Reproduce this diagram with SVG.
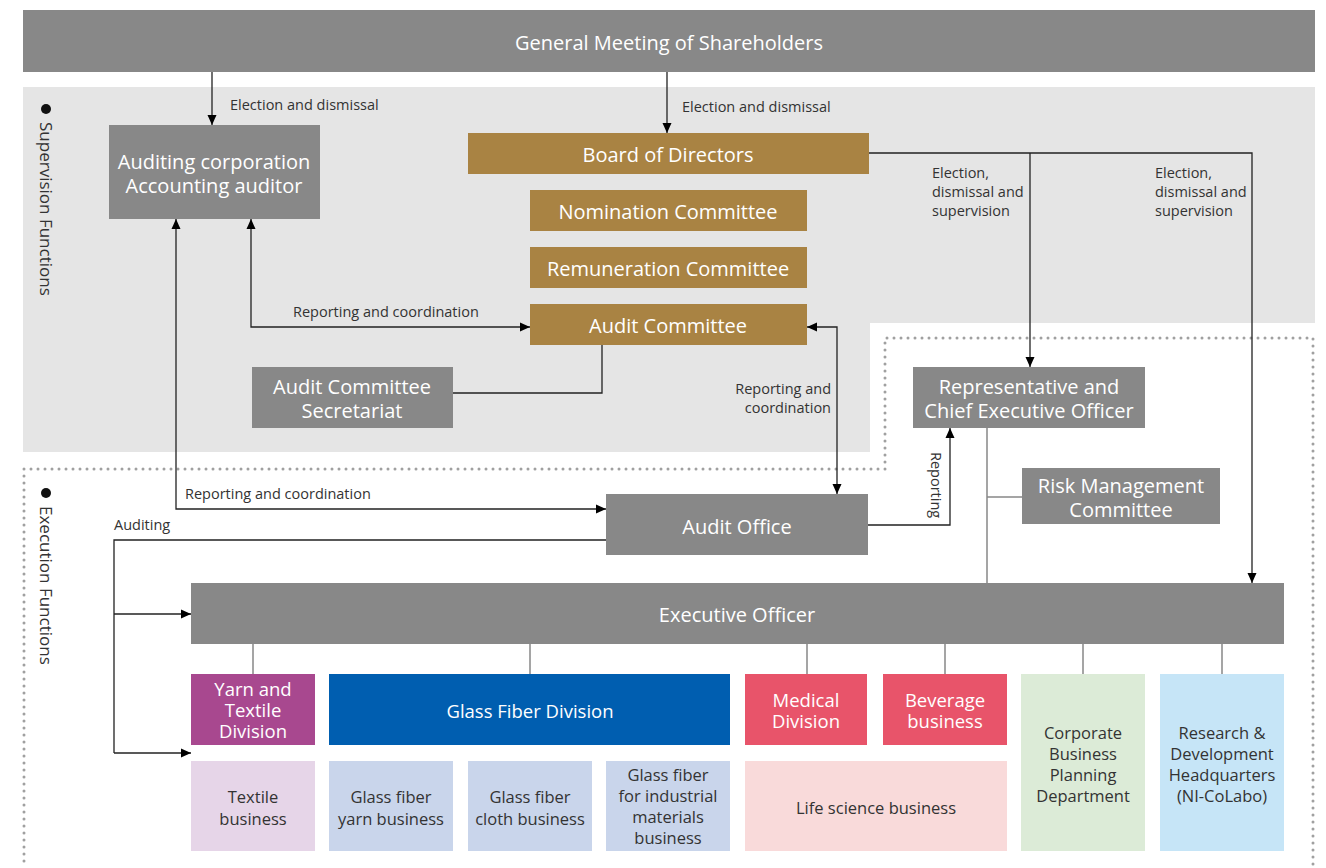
<svg xmlns="http://www.w3.org/2000/svg" width="1326" height="868" viewBox="0 0 1326 868">
  <style>
    .gray { fill: #888888; }
    .gold { fill: #a98343; }
    .nt { font-family: "Open Sans", "Noto Sans", sans-serif; font-size: 20px; fill: #ffffff; text-anchor: middle; }
    .ns { font-family: "Open Sans", "Noto Sans", sans-serif; font-size: 18.5px; fill: #ffffff; text-anchor: middle; }
    .dt { font-family: "Open Sans", "Noto Sans", sans-serif; font-size: 16.5px; fill: #333333; text-anchor: middle; }
    .lbl { font-family: "Open Sans", "Noto Sans", sans-serif; font-size: 14.5px; fill: #333333; }
    .side { font-family: "Open Sans", "Noto Sans", sans-serif; font-size: 17px; fill: #333333; }
    .ln { fill: none; stroke: #222222; stroke-width: 1.3; }
    .tick { fill: none; stroke: #888888; stroke-width: 1.5; }
    .dots { fill: none; stroke: #a0a0a0; stroke-width: 3; stroke-linecap: round; stroke-dasharray: 0 7; }
  </style>
  <defs>
    <marker id="arr" viewBox="0 0 10 10" refX="10" refY="5" markerWidth="10" markerHeight="10" markerUnits="userSpaceOnUse" orient="auto-start-reverse">
      <path d="M0,0.5 L10,5 L0,9.5 Z" fill="#000000"/>
    </marker>
  </defs>

  <!-- background zones -->
  <g id="zones">
    <path d="M23,87 H1315 V323 H870 V452 H23 Z" fill="#e5e5e5"/>
    <path class="dots" d="M24,469 H885 V338 H1313 V866"/>
    <path class="dots" d="M24,476 V866"/>
    <circle cx="46" cy="109" r="5" fill="#111111"/>
    <text class="side" transform="translate(40,122) rotate(90)">Supervision Functions</text>
    <circle cx="46" cy="493" r="5" fill="#111111"/>
    <text class="side" transform="translate(40,506) rotate(90)">Execution Functions</text>
  </g>

  <!-- connectors -->
  <g id="connectors">
    <path class="ln" d="M212,72 V125" marker-end="url(#arr)"/>
    <text class="lbl" x="230" y="110">Election and dismissal</text>
    <path class="ln" d="M667,72 V133" marker-end="url(#arr)"/>
    <text class="lbl" x="682" y="112">Election and dismissal</text>

    <path class="ln" d="M869,153 H1252 V583" marker-end="url(#arr)"/>
    <path class="ln" d="M1030,153 V367" marker-end="url(#arr)"/>
    <text class="lbl" x="932" y="178">Election,</text>
    <text class="lbl" x="932" y="197">dismissal and</text>
    <text class="lbl" x="932" y="216">supervision</text>
    <text class="lbl" x="1155" y="178">Election,</text>
    <text class="lbl" x="1155" y="197">dismissal and</text>
    <text class="lbl" x="1155" y="216">supervision</text>

    <path class="ln" d="M251,219 V327 H530" marker-start="url(#arr)" marker-end="url(#arr)"/>
    <text class="lbl" x="293" y="317">Reporting and coordination</text>
    <path class="ln" d="M176,219 V509 H606" marker-start="url(#arr)" marker-end="url(#arr)"/>
    <text class="lbl" x="185" y="499">Reporting and coordination</text>

    <path class="ln" d="M453,393 H602 V345"/>

    <path class="ln" d="M807,327 H837 V494" marker-start="url(#arr)" marker-end="url(#arr)"/>
    <text class="lbl" x="831" y="394" text-anchor="end">Reporting and</text>
    <text class="lbl" x="831" y="413" text-anchor="end">coordination</text>

    <path class="ln" d="M868,525 H950 V428" marker-end="url(#arr)"/>
    <text class="lbl" transform="translate(931,452) rotate(90)">Reporting</text>

    <path class="tick" d="M987,428 V583 M987,497 H1022"/>

    <path class="ln" d="M606,540 H114 V753"/>
    <path class="ln" d="M114,614 H191" marker-end="url(#arr)"/>
    <path class="ln" d="M114,753 H191" marker-end="url(#arr)"/>
    <text class="lbl" x="114" y="530">Auditing</text>

    <path class="tick" d="M253,644 V674 M530,644 V674 M807,644 V674 M945,644 V674 M1083,644 V674 M1222,644 V674"/>
  </g>

  <!-- nodes -->
  <g id="gm"><rect class="gray" x="23" y="10" width="1292" height="62"/>
    <text class="nt" x="669" y="50">General Meeting of Shareholders</text></g>
  <g id="auditor"><rect class="gray" x="109" y="125" width="211" height="94"/>
    <text class="nt" x="214" y="169">Auditing corporation</text>
    <text class="nt" x="214" y="193">Accounting auditor</text></g>
  <g id="board"><rect class="gold" x="468" y="133" width="401" height="41"/>
    <text class="nt" x="668" y="162">Board of Directors</text></g>
  <g id="nomination"><rect class="gold" x="530" y="190" width="277" height="41"/>
    <text class="nt" x="668" y="219">Nomination Committee</text></g>
  <g id="remuneration"><rect class="gold" x="530" y="247" width="277" height="41"/>
    <text class="nt" x="668" y="276">Remuneration Committee</text></g>
  <g id="audit-committee"><rect class="gold" x="530" y="304" width="277" height="41"/>
    <text class="nt" x="668" y="333">Audit Committee</text></g>
  <g id="secretariat"><rect class="gray" x="252" y="367" width="201" height="61"/>
    <text class="nt" x="352" y="394">Audit Committee</text>
    <text class="nt" x="352" y="418">Secretariat</text></g>
  <g id="ceo"><rect class="gray" x="913" y="367" width="232" height="61"/>
    <text class="nt" x="1029" y="394">Representative and</text>
    <text class="nt" x="1029" y="418">Chief Executive Officer</text></g>
  <g id="risk"><rect class="gray" x="1022" y="468" width="198" height="56"/>
    <text class="nt" x="1121" y="493">Risk Management</text>
    <text class="nt" x="1121" y="517">Committee</text></g>
  <g id="audit-office"><rect class="gray" x="606" y="494" width="262" height="61"/>
    <text class="nt" x="737" y="534">Audit Office</text></g>
  <g id="executive"><rect class="gray" x="191" y="583" width="1093" height="61"/>
    <text class="nt" x="737" y="622">Executive Officer</text></g>

  <g id="yarn-division"><rect x="191" y="674" width="124" height="71" fill="#a8488f"/>
    <text class="ns" x="253" y="696">Yarn and</text>
    <text class="ns" x="253" y="717">Textile</text>
    <text class="ns" x="253" y="738">Division</text></g>
  <g id="glass-division"><rect x="329" y="674" width="401" height="71" fill="#005eb0"/>
    <text class="ns" x="530" y="718">Glass Fiber Division</text></g>
  <g id="medical"><rect x="745" y="674" width="122" height="71" fill="#e8546a"/>
    <text class="ns" x="806" y="707">Medical</text>
    <text class="ns" x="806" y="728">Division</text></g>
  <g id="beverage"><rect x="883" y="674" width="124" height="71" fill="#e8546a"/>
    <text class="ns" x="945" y="707">Beverage</text>
    <text class="ns" x="945" y="728">business</text></g>
  <g id="planning"><rect x="1021" y="674" width="124" height="177" fill="#dcebd7"/>
    <text class="dt" x="1083" y="739">Corporate</text>
    <text class="dt" x="1083" y="760">Business</text>
    <text class="dt" x="1083" y="781">Planning</text>
    <text class="dt" x="1083" y="802">Department</text></g>
  <g id="rnd"><rect x="1160" y="674" width="124" height="177" fill="#c6e5f7"/>
    <text class="dt" x="1222" y="739">Research &amp;</text>
    <text class="dt" x="1222" y="760">Development</text>
    <text class="dt" x="1222" y="781">Headquarters</text>
    <text class="dt" x="1222" y="802">(NI-CoLabo)</text></g>

  <g id="textile"><rect x="191" y="761" width="124" height="90" fill="#e6d5e8"/>
    <text class="dt" x="253" y="803">Textile</text>
    <text class="dt" x="253" y="825">business</text></g>
  <g id="gf-yarn"><rect x="329" y="761" width="124" height="90" fill="#c9d5eb"/>
    <text class="dt" x="391" y="803">Glass fiber</text>
    <text class="dt" x="391" y="825">yarn business</text></g>
  <g id="gf-cloth"><rect x="468" y="761" width="124" height="90" fill="#c9d5eb"/>
    <text class="dt" x="530" y="803">Glass fiber</text>
    <text class="dt" x="530" y="825">cloth business</text></g>
  <g id="gf-industrial"><rect x="606" y="761" width="124" height="90" fill="#c9d5eb"/>
    <text class="dt" x="668" y="781">Glass fiber</text>
    <text class="dt" x="668" y="802">for industrial</text>
    <text class="dt" x="668" y="823">materials</text>
    <text class="dt" x="668" y="844">business</text></g>
  <g id="life-science"><rect x="745" y="761" width="262" height="90" fill="#f9dada"/>
    <text class="dt" x="876" y="814">Life science business</text></g>
</svg>
